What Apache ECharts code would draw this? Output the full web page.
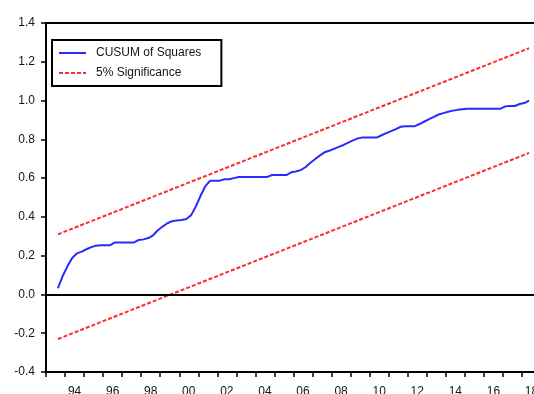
<!DOCTYPE html>
<html>
<head>
<meta charset="utf-8">
<script src="https://cdn.jsdelivr.net/npm/echarts@6/dist/echarts.min.js"></script>
<style>
  html, body { margin: 0; padding: 0; background: #fff; }
  #chart { width: 534px; height: 394px; }
</style>
</head>
<body>
<div id="chart"></div>
<script>
// Quarterly sample: first observation and CUSUM of squares statistic
const startYear = 1993;
const startQuarter = 3;
const cusumSq = [
  0.032, 0.095, 0.145, 0.188, 0.212, 0.221, 0.233, 0.244, 0.251, 0.254,
  0.254, 0.254, 0.268, 0.268, 0.268, 0.268, 0.268, 0.281, 0.284, 0.291,
  0.305, 0.331, 0.350, 0.367, 0.378, 0.382, 0.384, 0.389, 0.409, 0.455,
  0.510, 0.559, 0.587, 0.587, 0.587, 0.594, 0.594, 0.600, 0.606, 0.606,
  0.606, 0.606, 0.606, 0.606, 0.606, 0.616, 0.616, 0.616, 0.616, 0.630,
  0.634, 0.641, 0.656, 0.678, 0.697, 0.716, 0.733, 0.741, 0.751, 0.761,
  0.771, 0.783, 0.795, 0.805, 0.809, 0.809, 0.809, 0.809, 0.821, 0.832,
  0.842, 0.853, 0.865, 0.868, 0.868, 0.868, 0.879, 0.892, 0.904, 0.916,
  0.928, 0.935, 0.942, 0.948, 0.952, 0.955, 0.958, 0.958, 0.958, 0.958,
  0.958, 0.958, 0.958, 0.958, 0.970, 0.972, 0.972, 0.982, 0.987, 1.000
];
// 5% significance bounds at the first and last observation (straight lines)
const upperBound = [0.31, 1.27];
const lowerBound = [-0.23, 0.73];
// Axis settings
const yearLabels = [1994, 1996, 1998, 2000, 2002, 2004, 2006, 2008, 2010, 2012, 2014, 2016, 2018];

// Each quarter is placed at its mid-point on a continuous year scale
const quarterPos = cusumSq.map((_, i) => {
  const q = startQuarter - 1 + i;
  return startYear + q / 4 + 0.125;
});
const cusumData = cusumSq.map((v, i) => [quarterPos[i], v]);
const firstX = quarterPos[0];
const lastX = quarterPos[quarterPos.length - 1];
const upperData = [[firstX, upperBound[0]], [lastX, upperBound[1]]];
const lowerData = [[firstX, lowerBound[0]], [lastX, lowerBound[1]]];

const FONT = 'Liberation Sans';
const TEXT = '#161616';
const RED = '#ff2a2a';
const BLUE = '#2a2aff';

const chart = echarts.init(document.getElementById('chart'), null, { renderer: 'canvas' });
chart.setOption({
  animation: false,
  backgroundColor: '#fff',
  grid: {
    // plot frame runs past the right edge of the canvas
    left: 46, top: 23, width: 495, height: 349,
    outerBoundsMode: 'none',
    containLabel: false,
    show: true, borderColor: '#000', borderWidth: 2, backgroundColor: 'transparent'
  },
  legend: {
    orient: 'vertical',
    left: 52, top: 40,
    itemWidth: 27, itemHeight: 10, itemGap: 8,
    padding: [7, 20, 7, 6],
    borderColor: '#000', borderWidth: 2, borderRadius: 0,
    itemStyle: { opacity: 0 },
    textStyle: { fontFamily: FONT, fontSize: 12, color: TEXT, padding: [0, 0, 0, 5] },
    data: ['CUSUM of Squares', '5% Significance']
  },
  xAxis: {
    type: 'value',
    min: 1993, max: 2019, interval: 1,
    axisLine: { show: true, onZero: false, lineStyle: { color: '#000', width: 2 } },
    axisTick: { show: true, length: 5, lineStyle: { color: '#000', width: 1.5 } },
    axisLabel: {
      customValues: yearLabels.map(y => y + 0.5),
      formatter: v => String(Math.floor(v) % 100).padStart(2, '0'),
      fontFamily: FONT, fontSize: 12, color: TEXT, margin: 14
    },
    splitLine: { show: false }
  },
  yAxis: {
    type: 'value',
    min: -0.4, max: 1.4, interval: 0.2,
    axisLine: { show: true, onZero: false, lineStyle: { color: '#000', width: 2 } },
    axisTick: { show: true, length: 5, lineStyle: { color: '#000', width: 1.5 } },
    axisLabel: {
      formatter: v => v.toFixed(1),
      fontFamily: FONT, fontSize: 12, color: TEXT, margin: 11
    },
    splitLine: { show: false }
  },
  series: [
    {
      name: 'CUSUM of Squares',
      type: 'line',
      data: cusumData,
      symbol: 'none',
      lineStyle: { color: BLUE, width: 2 },
      itemStyle: { color: BLUE },
      markLine: {
        silent: true,
        symbol: ['none', 'none'],
        label: { show: false },
        lineStyle: { color: '#000', width: 2, type: 'solid' },
        data: [{ yAxis: 0 }]
      },
      z: 3
    },
    {
      name: '5% Significance',
      type: 'line',
      data: upperData,
      symbol: 'none',
      lineStyle: { color: RED, width: 2, type: [4, 2] },
      itemStyle: { color: RED },
      z: 2
    },
    {
      name: '5% Significance',
      type: 'line',
      data: lowerData,
      symbol: 'none',
      lineStyle: { color: RED, width: 2, type: [4, 2] },
      itemStyle: { color: RED },
      z: 2
    }
  ]
});
</script>
</body>
</html>
